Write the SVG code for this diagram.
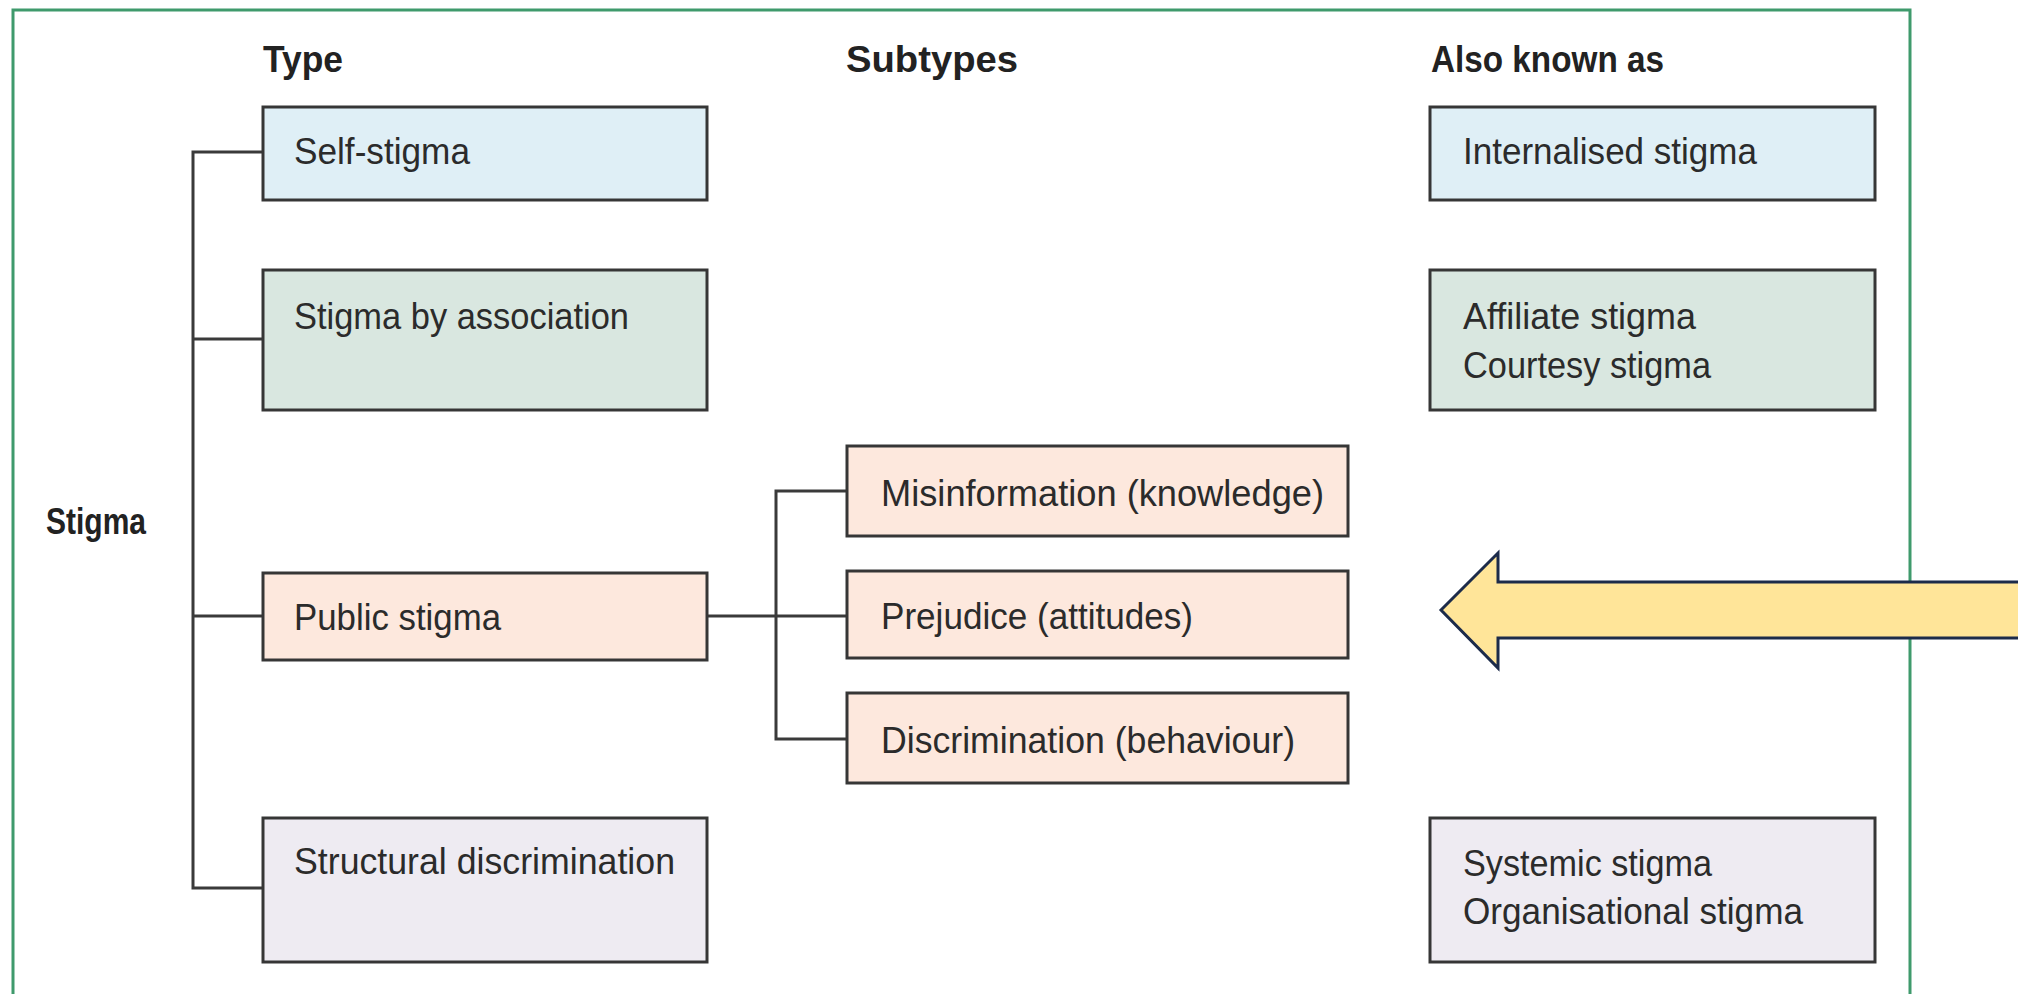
<svg xmlns="http://www.w3.org/2000/svg" width="2018" height="994" viewBox="0 0 2018 994">
<style>
  text { font-family: "Liberation Sans", Arial, sans-serif; font-size: 37px; fill: #2b2b2b; }
  .h { font-weight: bold; fill: #222; }
  .box { stroke: #363636; stroke-width: 3; }
  .blue { fill: #DFEFF6; }
  .green { fill: #D9E7E0; }
  .peach { fill: #FDE8DD; }
  .lav { fill: #EEEBF2; }
  .conn { fill: none; stroke: #3a3a3a; stroke-width: 3; }
</style>
<rect width="2018" height="994" fill="#ffffff"/>
<path d="M13,1000 V10 H1910 V1000" fill="none" stroke="#3f9a6c" stroke-width="3"/>

<g id="headers">
  <text class="h" x="263" y="72" textLength="80" lengthAdjust="spacingAndGlyphs">Type</text>
  <text class="h" x="846" y="72" textLength="172" lengthAdjust="spacingAndGlyphs">Subtypes</text>
  <text class="h" x="1431" y="72" textLength="233" lengthAdjust="spacingAndGlyphs">Also known as</text>
</g>

<g id="stigma">
  <text class="h" x="46" y="534" textLength="100" lengthAdjust="spacingAndGlyphs">Stigma</text>
</g>

<g id="connectors">
  <path class="conn" d="M263,152 H193 V888 H263 M193,339 H263 M193,616 H263"/>
  <path class="conn" d="M707,616 H847 M847,491 H776 V739 H847"/>
</g>

<g id="self-stigma">
  <rect class="box blue" x="263" y="107" width="444" height="93"/>
  <text x="294" y="164" textLength="176" lengthAdjust="spacingAndGlyphs">Self-stigma</text>
</g>
<g id="stigma-by-association">
  <rect class="box green" x="263" y="270" width="444" height="140"/>
  <text x="294" y="329" textLength="335" lengthAdjust="spacingAndGlyphs">Stigma by association</text>
</g>
<g id="public-stigma">
  <rect class="box peach" x="263" y="573" width="444" height="87"/>
  <text x="294" y="630" textLength="207" lengthAdjust="spacingAndGlyphs">Public stigma</text>
</g>
<g id="structural-discrimination">
  <rect class="box lav" x="263" y="818" width="444" height="144"/>
  <text x="294" y="874" textLength="381" lengthAdjust="spacingAndGlyphs">Structural discrimination</text>
</g>

<g id="misinformation">
  <rect class="box peach" x="847" y="446" width="501" height="90"/>
  <text x="881" y="506" textLength="443" lengthAdjust="spacingAndGlyphs">Misinformation (knowledge)</text>
</g>
<g id="prejudice">
  <rect class="box peach" x="847" y="571" width="501" height="87"/>
  <text x="881" y="629" textLength="312" lengthAdjust="spacingAndGlyphs">Prejudice (attitudes)</text>
</g>
<g id="discrimination">
  <rect class="box peach" x="847" y="693" width="501" height="90"/>
  <text x="881" y="753" textLength="414" lengthAdjust="spacingAndGlyphs">Discrimination (behaviour)</text>
</g>

<g id="internalised-stigma">
  <rect class="box blue" x="1430" y="107" width="445" height="93"/>
  <text x="1463" y="164" textLength="294" lengthAdjust="spacingAndGlyphs">Internalised stigma</text>
</g>
<g id="affiliate-courtesy">
  <rect class="box green" x="1430" y="270" width="445" height="140"/>
  <text x="1463" y="329" textLength="233" lengthAdjust="spacingAndGlyphs">Affiliate stigma</text>
  <text x="1463" y="378" textLength="248" lengthAdjust="spacingAndGlyphs">Courtesy stigma</text>
</g>
<g id="systemic-organisational">
  <rect class="box lav" x="1430" y="818" width="445" height="144"/>
  <text x="1463" y="876" textLength="249" lengthAdjust="spacingAndGlyphs">Systemic stigma</text>
  <text x="1463" y="924" textLength="340" lengthAdjust="spacingAndGlyphs">Organisational stigma</text>
</g>

<g id="arrow">
  <path d="M1441,610 L1498,553 V582 H2030 V638 H1498 V668 Z" fill="#FFE599" stroke="#1C2B4A" stroke-width="3" stroke-linejoin="miter"/>
</g>
</svg>
